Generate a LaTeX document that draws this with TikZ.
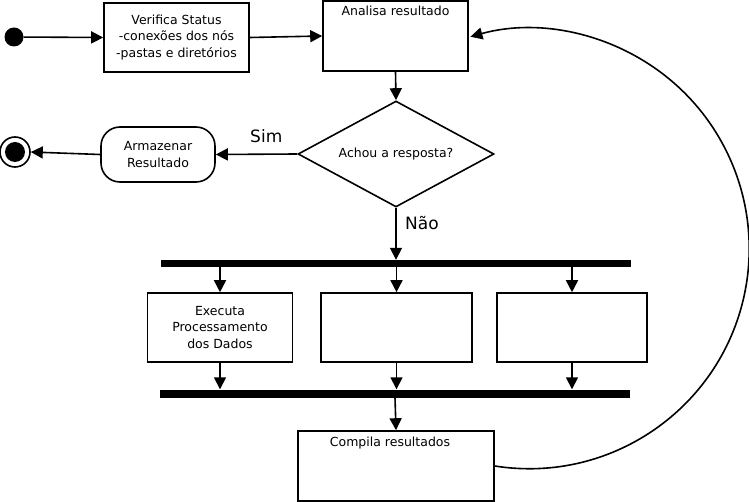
\documentclass[tikz,border=0pt]{standalone}
\usepackage{fontspec}
\setmainfont{DejaVu Sans}
\usetikzlibrary{shapes.geometric,arrows.meta,positioning}

\tikzset{
  txt/.style={font=\fontsize{12.5}{16.5}\selectfont, align=center},
  etapa/.style={draw, line width=1.6pt, txt, minimum width=#1, inner sep=0pt},
  etapa/.default=145pt,
  decisao/.style={draw, diamond, aspect=1.85, line width=1.6pt, txt, inner sep=0pt,
    minimum width=196pt, minimum height=106pt},
  barra/.style={fill=black, inner sep=0pt, minimum width=470pt, minimum height=7pt},
  seta/.style={line width=1.6pt, -{Triangle[length=12pt,width=12pt]}},
  rotulo/.style={font=\fontsize{17}{18}\selectfont}
}

\begin{document}
\begin{tikzpicture}[x=1pt,y=1pt]
  \useasboundingbox (0,0) rectangle (749,-502);

  % inicio e fim
  \node[circle, fill=black, minimum size=19pt, inner sep=0pt] (inicio) at (14,-37) {};
  \node[circle, draw, line width=1.6pt, minimum size=30pt, inner sep=0pt] (fim) at (15,-152) {};
  \fill (fim.center) circle (10pt);

  % etapas superiores
  \node[etapa, minimum height=69pt] (verifica) at (176.5,-37.5)
    {Verifica Status\\-conexões dos nós\\-pastas e diretórios};
  \node[etapa, minimum height=70pt,
    label={[txt, anchor=north, inner sep=0pt, yshift=-6pt]north:Analisa resultado}]
    (analisa) at (395.5,-36) {};
  \node[decisao] (achou) at (396,-154) {Achou a resposta?};
  \node[draw, line width=1.6pt, rounded corners=19pt, txt, minimum width=114pt,
    minimum height=55pt, inner sep=0pt] (armazenar) at (158,-154.5)
    {Armazenar\\Resultado};

  % fork / join
  \node[barra] (fork) at (396,-263.5) {};
  \node[barra, minimum height=8pt] (join) at (395,-393.5) {};

  \node[etapa, minimum height=69pt] (executa) at (220,-327.5)
    {Executa\\Processamento\\dos Dados};
  \node[etapa, minimum width=151pt, minimum height=69pt] (proc2) at (396.5,-327.5) {};
  \node[etapa, minimum width=150pt, minimum height=69pt] (proc3) at (572,-327.5) {};

  \node[etapa, minimum width=196pt, minimum height=70pt,
    label={[txt, anchor=north, inner sep=0pt, yshift=-7pt, xshift=-6pt]north:Compila resultados}]
    (compila) at (396,-466) {};

  % conectores
  \draw[seta] (inicio) -- (verifica.west);
  \draw[seta] (verifica.east) -- (analisa.west);
  \draw[seta] (analisa.south) -- (achou.north);
  \draw[seta] (achou.west) -- node[rotulo, above=7pt, pos=0.38] {Sim} (armazenar.east);
  \draw[seta] (armazenar.west) -- (fim.east);
  \draw[seta] (achou.south) -- node[rotulo, right=5pt, pos=0.3] {Não} (fork.north);
  \foreach \p in {executa,proc2,proc3}
    \draw[seta] (fork.south -| \p.north) -- (\p.north);
  \foreach \p in {executa,proc2,proc3}
    \draw[seta] (\p.south) -- (join.north -| \p.south);
  \draw[seta] (join.south) -- (compila.north);
  \draw[seta] (compila.east) arc[start angle=-99, end angle=105.5, radius=220pt];
\end{tikzpicture}
\end{document}
